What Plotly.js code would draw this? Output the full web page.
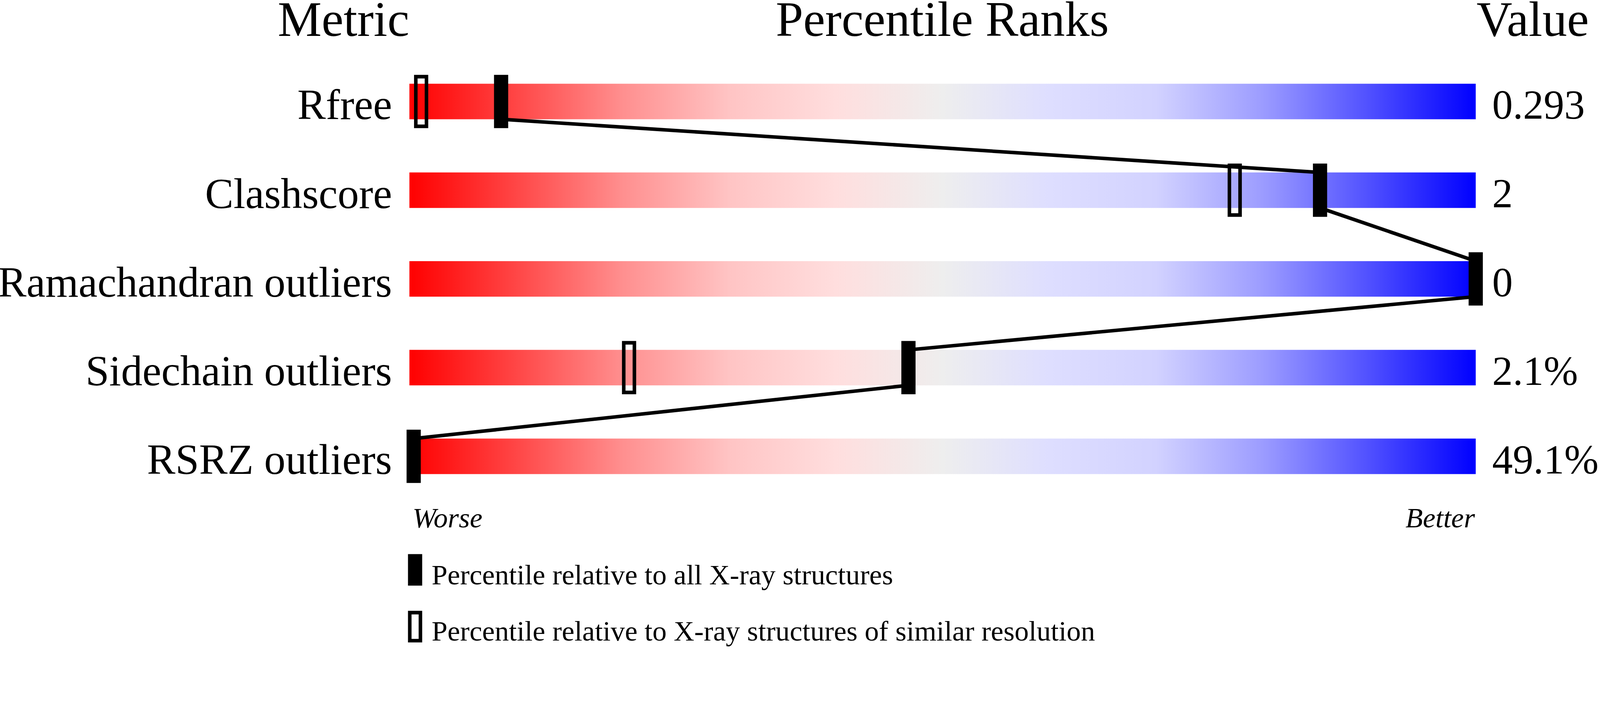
<!DOCTYPE html>
<html>
<head>
<meta charset="utf-8">
<script src="https://cdn.plot.ly/plotly-3.0.1.min.js"></script>
<style>
  html, body { margin: 0; padding: 0; background: #fff; overflow: hidden; }
</style>
</head>
<body>
<div id="chart"></div>
<script>
// values
const metrics = ['Rfree', 'Clashscore', 'Ramachandran outliers', 'Sidechain outliers', 'RSRZ outliers'];
const values = ['0.293', '2', '0', '2.1%', '49.1%'];
const rankAll = [8.6, 85.4, 100, 46.8, 0.4];          // percentile vs all X-ray structures
const rankSimilar = [1.1, 77.4, null, 20.6, null];    // percentile vs similar resolution
const legendLabels = ['Percentile relative to all X-ray structures',
                      'Percentile relative to X-ray structures of similar resolution'];

const FONT = '"Liberation Serif", "Times New Roman", Times, serif';
// layout measured on a 4506x1824 canvas, scaled to whatever the window really is
const W_REF = 4506, H_REF = 1824;
const S = (window.innerWidth || W_REF) / W_REF;
const W = Math.round(W_REF * S), H = Math.round(H_REF * S);
const px = v => v * S;

const BAR_LEFT = 1153, BAR_RIGHT = 4156;   // reference pixel span of the 0..100 scale
const ROW0 = 286, ROW_STEP = 250;          // reference pixel centre of first row, row pitch
const BAR_HALF = 0.2, MARK_HALF = 0.3;     // in row units
const LABEL_DROP = 8 / ROW_STEP;           // row labels sit a touch below bar centre

const pxPerUnit = (BAR_RIGHT - BAR_LEFT) / 100;
const xRange = [-BAR_LEFT / pxPerUnit, (W_REF - BAR_LEFT) / pxPerUnit];
const yRange = [(H_REF - ROW0) / ROW_STEP, -ROW0 / ROW_STEP];
const pyToRow = py => (py - ROW0) / ROW_STEP;

const gradient = [
  [0, '#ff0000'], [0.1, '#ff4646'], [0.2, '#ff8f8f'], [0.3, '#ffc4c4'],
  [0.4, '#ffdede'], [0.5, '#eeeeee'], [0.6, '#dedeff'], [0.7, '#d2d2ff'],
  [0.8, '#9c9cff'], [0.9, '#5050ff'], [1, '#0000ff']
];

const rows = metrics.map((m, i) => i);

// gradient bars
const traces = rows.map(i => ({
  type: 'scatter',
  x: [0, 100, 100, 0, 0],
  y: [i - BAR_HALF, i - BAR_HALF, i + BAR_HALF, i + BAR_HALF, i - BAR_HALF],
  mode: 'lines',
  line: { width: 0 },
  fill: 'toself',
  fillgradient: { type: 'horizontal', colorscale: gradient },
  hoverinfo: 'skip',
  showlegend: false
}));

// zigzag line joining the "all structures" markers, bar edge to bar edge
const lineX = [], lineY = [];
rows.forEach(i => {
  if (i > 0) { lineX.push(rankAll[i]); lineY.push(i - BAR_HALF); }
  if (i < rows.length - 1) { lineX.push(rankAll[i]); lineY.push(i + BAR_HALF); }
});
traces.push({
  type: 'scatter', x: lineX, y: lineY, mode: 'lines',
  line: { color: '#000', width: px(10) },
  hoverinfo: 'skip', showlegend: false
});

// invisible helper so the right-hand value axis is drawn
traces.push({
  type: 'scatter', x: rankAll, y: rows, yaxis: 'y2', mode: 'markers',
  marker: { opacity: 0 }, hoverinfo: 'skip', showlegend: false
});

const shapes = [];
rows.forEach(i => {
  shapes.push({
    type: 'rect', xref: 'x', yref: 'y', xsizemode: 'pixel', xanchor: rankAll[i],
    x0: px(-20), x1: px(20), y0: i - MARK_HALF, y1: i + MARK_HALF,
    fillcolor: '#000', line: { width: 0 }
  });
  if (rankSimilar[i] !== null) {
    shapes.push({
      type: 'rect', xref: 'x', yref: 'y', xsizemode: 'pixel', xanchor: rankSimilar[i],
      x0: px(-15), x1: px(15), y0: i - MARK_HALF + 0.02, y1: i + MARK_HALF - 0.02,
      fillcolor: 'rgba(0,0,0,0)', line: { color: '#000', width: px(10) }
    });
  }
});

// legend symbols
const legY = [pyToRow(1606), pyToRow(1766)];
shapes.push({
  type: 'rect', xref: 'x', yref: 'y', xsizemode: 'pixel', xanchor: 0,
  x0: px(-4), x1: px(36), y0: legY[0] - 0.178, y1: legY[0] + 0.178,
  fillcolor: '#000', line: { width: 0 }
});
shapes.push({
  type: 'rect', xref: 'x', yref: 'y', xsizemode: 'pixel', xanchor: 0,
  x0: px(1), x1: px(31), y0: legY[1] - 0.158, y1: legY[1] + 0.158,
  fillcolor: 'rgba(0,0,0,0)', line: { color: '#000', width: px(10) }
});

const txt = (text, x, y, anchor, size, xshift) => ({
  text, x, y, xref: 'x', yref: 'y', xanchor: anchor, yanchor: 'middle',
  xshift: px(xshift || 0), showarrow: false,
  font: { family: FONT, size: px(size), color: '#000' }
});

const headY = pyToRow(54);
const annotations = [
  txt('Metric', 0, headY, 'right', 139, 2),
  txt('Percentile Ranks', 50, headY, 'center', 139),
  txt('Value', 100, headY, 'left', 139),
  txt('<i>Worse</i>', 0, pyToRow(1459), 'left', 80, 6),
  txt('<i>Better</i>', 100, pyToRow(1459), 'right', 80),
  txt(legendLabels[0], 0, pyToRow(1620), 'left', 80, 60),
  txt(legendLabels[1], 0, pyToRow(1778), 'left', 80, 60)
];

// transparent outside ticks push the labels away from the bars
const yCommon = {
  range: yRange, tickvals: rows.map(i => i + LABEL_DROP),
  ticks: 'outside', tickcolor: 'rgba(0,0,0,0)', tickwidth: 1,
  showgrid: false, zeroline: false, showline: false, fixedrange: true
};

const layout = {
  width: W, height: H,
  margin: { l: 0, r: 0, t: 0, b: 0, pad: 0 },
  paper_bgcolor: '#fff', plot_bgcolor: '#fff',
  showlegend: false,
  xaxis: { range: xRange, domain: [0, 1], visible: false, fixedrange: true },
  yaxis: Object.assign({}, yCommon, {
    ticktext: metrics, anchor: 'free', position: BAR_LEFT / W_REF, side: 'left',
    ticklen: px(25), tickfont: { family: FONT, size: px(120), color: '#000' }
  }),
  yaxis2: Object.assign({}, yCommon, {
    ticktext: values, overlaying: 'y', anchor: 'free', position: BAR_RIGHT / W_REF,
    side: 'right', ticklen: px(22), tickfont: { family: FONT, size: px(116), color: '#000' }
  }),
  shapes, annotations
};

const el = document.getElementById('chart');
el.style.width = W + 'px';
el.style.height = H + 'px';
Plotly.newPlot(el, traces, layout, { staticPlot: true, displayModeBar: false });
</script>
</body>
</html>
